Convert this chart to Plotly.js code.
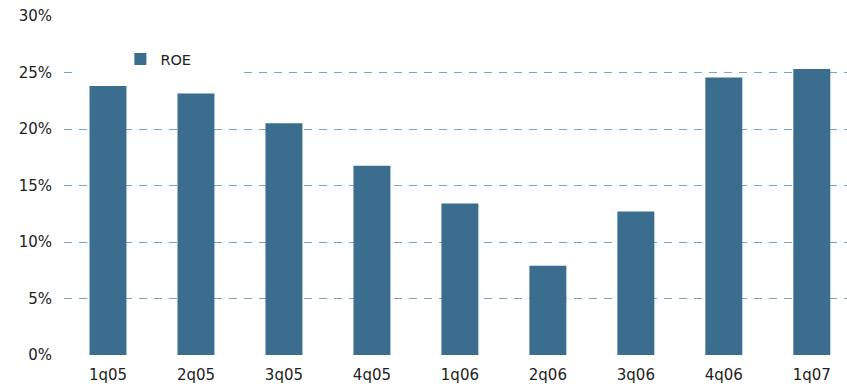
<!DOCTYPE html>
<html><head><meta charset="utf-8">
<script src="https://cdn.plot.ly/plotly-3.0.1.min.js"></script>
<style>html,body{margin:0;padding:0;background:#fff}</style>
</head><body><div id="chart" style="width:847px;height:390px"></div>
<script>
var categories = ['1q05','2q05','3q05','4q05','1q06','2q06','3q06','4q06','1q07'];
var roe = [23.8, 23.15, 20.5, 16.75, 13.4, 7.9, 12.7, 24.55, 25.3];
var yTickVals = [0,5,10,15,20,25,30];
var yTickText = ['0%','5%','10%','15%','20%','25%','30%'];
var seriesName = 'ROE';

var trace = {
  type: 'bar', x: categories, y: roe, name: seriesName,
  marker: {color: '#3a6d8e'}, width: 0.42, showlegend: true,
  hoverinfo: 'x+y'
};
var layout = {
  width: 847, height: 390,
  margin: {l: 64, r: 0, t: 16, b: 35},
  paper_bgcolor: '#fff', plot_bgcolor: '#fff',
  font: {family: '"DejaVu Sans", Verdana, sans-serif', size: 15, color: '#222'},
  showlegend: true,
  legend: {x: 0.072, y: 0.873, xanchor: 'left', yanchor: 'middle',
    bgcolor: 'rgba(0,0,0,0)', font: {size: 14.5, color: '#222'}, itemwidth: 30},
  xaxis: {type: 'category', range: [-0.5, 8.4], showgrid: false, zeroline: false,
    showline: false, ticks: '', ticklabelstandoff: 9, tickfont: {size: 15}},
  yaxis: {range: [0, 30], tickvals: yTickVals, ticktext: yTickText,
    showgrid: true, gridcolor: '#7ea4c2', gridwidth: 1, griddash: '8px,7px',
    zeroline: false, showline: false, ticks: '', ticklabelstandoff: 11,
    tickfont: {size: 15}},
  shapes: [{type: 'rect', xref: 'paper', yref: 'paper', x0: 0.011, x1: 0.224,
    y0: 0.81, y1: 0.93, fillcolor: '#fff', line: {width: 0}, layer: 'above'}]
};
Plotly.newPlot('chart', [trace], layout, {displayModeBar: false, staticPlot: true});
</script></body></html>
